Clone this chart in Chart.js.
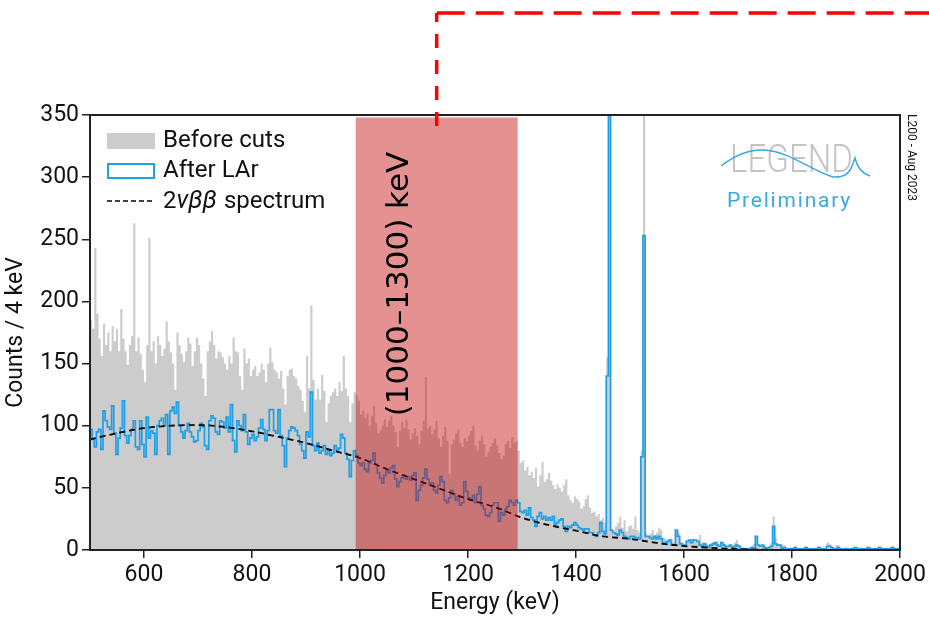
<!DOCTYPE html>
<html>
<head>
<meta charset="utf-8">
<script src="https://cdn.jsdelivr.net/npm/chart.js@4.4.0/dist/chart.umd.min.js"></script>
<style>
  html, body { margin: 0; padding: 0; background: #fff; }
  #wrap { width: 929px; height: 618px; }
</style>
</head>
<body>
<div id="wrap"><canvas id="chart" width="929" height="618"></canvas></div>
<script>
// Histogram binning (keV)
const BIN_START = 500;
const BIN_WIDTH = 4;

// Counts / 4 keV, 25 bins (100 keV) per row
const beforeCuts = [
  185,178,243,190,170,156,182,165,175,160,180,168,178,160,194,170,160,149,165,172,263,160,171,158,145,
  135,165,251,160,168,150,172,165,156,162,184,168,159,150,129,175,165,158,151,160,171,166,148,160,171,
  165,150,138,124,160,168,176,165,154,160,159,155,150,145,156,150,171,160,159,140,129,162,150,154,140,
  145,148,140,143,150,145,135,150,163,151,145,143,138,144,130,117,140,145,146,140,138,132,129,120,111,
  156,130,197,137,121,130,121,141,128,103,118,124,127,130,124,135,128,156,130,124,103,118,127,125,120,
  109,112,106,110,100,108,116,102,94,96,100,105,99,104,108,100,95,83,96,103,98,105,97,89,94,
  98,92,85,96,104,139,98,100,93,97,104,90,83,92,99,88,61,85,89,94,97,86,83,90,88,
  92,96,100,84,80,88,92,85,75,79,83,86,90,84,78,73,76,85,88,82,91,86,88,80,70,
  72,64,67,60,63,58,66,51,60,71,55,57,62,56,52,49,53,50,47,52,57,44,40,38,43,
  41,39,33,35,41,44,34,30,31,27,29,24,26,22,155,430,16,14,19,22,27,18,24,15,19,
  20,17,27,16,14,80,420,14,11,13,16,12,14,18,16,10,9,8,9,9,6,16,14,7,6,
  5,7,8,9,9,8,7,12,6,6,5,4,5,6,6,7,4,6,5,4,3,4,3,6,8,
  4,2,2,1,2,2,3,5,11,4,3,4,3,2,3,6,27,10,5,5,4,4,2,1,2,
  2,3,2,1,2,1,3,2,1,2,1,2,3,2,1,2,6,5,3,2,4,4,2,1,2,
  2,1,2,3,2,1,2,2,1,3,2,1,2,2,1,3,2,2,1,2,2,3,2,1,2
];

const afterLAr = [
  97,89,83,95,97,81,112,104,99,97,116,94,77,90,98,120,92,86,92,97,104,83,81,104,85,
  75,107,90,96,94,77,100,104,106,100,109,77,112,115,110,119,100,95,90,96,102,95,91,87,88,
  96,102,99,84,81,104,108,106,95,93,104,103,98,107,95,117,88,79,104,100,96,109,95,85,90,
  93,88,91,98,105,97,88,96,113,113,96,94,113,92,84,67,90,96,99,98,96,92,85,80,74,
  95,91,127,84,80,86,78,80,84,77,80,76,78,84,80,82,93,90,78,73,59,72,80,76,70,
  68,70,65,63,70,72,78,69,62,58,54,60,64,62,66,68,57,51,55,58,60,57,59,56,60,
  62,40,48,52,58,65,57,52,54,48,46,52,59,55,40,38,42,48,45,40,43,36,38,55,47,
  42,40,44,38,45,51,36,33,28,27,30,36,38,38,23,30,28,33,35,40,38,36,40,38,31,
  30,32,28,34,26,24,19,27,30,25,27,24,26,24,27,20,22,24,25,19,15,19,18,20,22,
  20,18,17,16,17,17,14,14,12,11,14,22,15,13,140,420,16,14,13,12,16,14,11,10,9,
  11,11,10,10,9,75,253,11,11,10,9,11,9,11,9,5,6,7,8,4,4,16,11,5,4,
  4,7,8,6,8,8,7,4,3,5,3,2,4,5,6,4,3,6,4,3,3,4,2,3,4,
  3,1,1,1,1,1,2,2,11,4,3,4,2,1,2,3,19,5,4,4,1,2,1,1,1,
  1,2,1,1,0,1,2,1,1,0,1,1,2,1,1,0,3,3,2,1,1,2,1,0,1,
  1,0,1,1,2,1,0,1,1,1,2,1,0,1,1,2,1,1,1,0,1,2,1,1,1
];

// 2vbb expectation
const spectrumEnergy = [500,550,600,650,700,750,800,850,900,950,1000,1050,1100,1150,1200,1250,1300,1350,1400,1450,1500,1550,1600,1650,1700,1750,1800];
const spectrumCounts = [89,94,98,100,100.5,99,95.5,91,86,80,74,65,57,49,41,34.5,26,20,15.5,11,9,5.7,3.2,1.8,0.8,0.3,0];

const xTicks = [600, 800, 1000, 1200, 1400, 1600, 1800, 2000];
const yTicks = [0, 50, 100, 150, 200, 250, 300, 350];

// shaded window and marker (keV)
const roiBand = [992, 1292];
const roiLabel = '(1000\u20131300) keV';
const markerEnergy = 1142;

const FONT = 'Roboto';
const GRAY = '#cccccc';
const BLUE = '#1f9fe6';

function toSteps(values) {
  const pts = values.map((v, i) => ({ x: BIN_START + i * BIN_WIDTH, y: v }));
  pts.push({ x: BIN_START + values.length * BIN_WIDTH, y: values[values.length - 1] });
  return pts;
}

// red band + label drawn over the histograms, then the box frame
const overlayPlugin = {
  id: 'overlay',
  afterDatasetsDraw(chart) {
    const { ctx, chartArea: a, scales: { x, y } } = chart;
    const x0 = x.getPixelForValue(roiBand[0]);
    const x1 = x.getPixelForValue(roiBand[1]);
    ctx.save();
    ctx.beginPath();
    ctx.rect(a.left, a.top, a.right - a.left, a.bottom - a.top);
    ctx.clip();
    ctx.fillStyle = 'rgba(200, 10, 10, 0.45)';
    const yTop = y.getPixelForValue(348);
    ctx.fillRect(x0, yTop, x1 - x0, a.bottom - yTop);

    ctx.translate(x0 + 44, 284);
    ctx.rotate(-Math.PI / 2);
    ctx.fillStyle = '#000';
    ctx.font = '31px "DejaVu Sans"';
    ctx.textAlign = 'center';
    ctx.textBaseline = 'middle';
    ctx.fillText(roiLabel, 0, 0);
    ctx.restore();

    ctx.save();
    ctx.strokeStyle = '#222';
    ctx.lineWidth = 2;
    ctx.strokeRect(a.left, a.top, a.right - a.left, a.bottom - a.top);
    ctx.restore();
  },
  afterDraw(chart) {
    const { ctx, chartArea: a, scales: { x } } = chart;

    // red dashed marker going up and out to the right
    const mx = x.getPixelForValue(markerEnergy);
    ctx.save();
    ctx.strokeStyle = '#ff0000';
    ctx.lineWidth = 3.5;
    ctx.setLineDash([14, 12]);
    ctx.beginPath();
    ctx.moveTo(mx, 126);
    ctx.lineTo(mx, 13);
    ctx.stroke();
    ctx.setLineDash([28, 11]);
    ctx.beginPath();
    ctx.moveTo(mx, 13);
    ctx.lineTo(chart.width, 13);
    ctx.stroke();
    ctx.restore();

    // legend
    const lx = a.left + 17;
    ctx.save();
    ctx.fillStyle = GRAY;
    ctx.fillRect(lx, 133, 48, 16);
    ctx.strokeStyle = BLUE;
    ctx.lineWidth = 2;
    ctx.strokeRect(lx + 1, 164, 46, 14);
    ctx.strokeStyle = '#000';
    ctx.lineWidth = 1.4;
    ctx.setLineDash([5, 3]);
    ctx.beginPath();
    ctx.moveTo(lx, 201);
    ctx.lineTo(lx + 48, 201);
    ctx.stroke();
    ctx.setLineDash([]);

    ctx.fillStyle = '#111';
    ctx.textBaseline = 'middle';
    ctx.font = '24px ' + FONT;
    const tx = lx + 56;
    ctx.fillText('Before cuts', tx, 141);
    ctx.fillText('After LAr', tx, 171);
    ctx.fillText('2', tx, 202);
    let cx = tx + ctx.measureText('2').width;
    ctx.font = 'italic 25px ' + FONT;
    ctx.fillText('\u03bd\u03b2\u03b2', cx, 202);
    cx += ctx.measureText('\u03bd\u03b2\u03b2').width + 1;
    ctx.font = '24px ' + FONT;
    ctx.fillText(' spectrum', cx, 202);
    ctx.restore();

    // LEGEND logo
    ctx.save();
    ctx.font = '300 38px ' + FONT;
    ctx.fillStyle = '#c4c4c4';
    ctx.textBaseline = 'alphabetic';
    const lw = ctx.measureText('LEGEND').width;
    ctx.translate(730, 172);
    ctx.scale(123 / lw, 1);
    ctx.fillText('LEGEND', 0, 0);
    ctx.restore();

    ctx.save();
    ctx.strokeStyle = '#3aa8e0';
    ctx.lineWidth = 1.5;
    ctx.beginPath();
    ctx.moveTo(721, 166);
    ctx.bezierCurveTo(735, 155, 750, 149, 765, 150);
    ctx.bezierCurveTo(790, 152, 810, 170, 833, 177);
    ctx.quadraticCurveTo(848, 178, 852, 166);
    ctx.lineTo(855, 158);
    ctx.quadraticCurveTo(858, 172, 870, 176);
    ctx.stroke();

    ctx.fillStyle = '#39a9e1';
    ctx.font = '21px ' + FONT;
    ctx.letterSpacing = '1.8px';
    ctx.textBaseline = 'alphabetic';
    ctx.fillText('Preliminary', 727, 207);
    ctx.restore();

    // side stamp
    ctx.save();
    ctx.translate(911, 114);
    ctx.rotate(Math.PI / 2);
    ctx.fillStyle = '#111';
    ctx.font = '12px ' + FONT;
    ctx.textBaseline = 'middle';
    ctx.fillText('L200 - Aug 2023', 0, 0);
    ctx.restore();
  }
};

const axisGrid = { display: true, drawOnChartArea: false, drawTicks: true, tickLength: 8, color: '#222', lineWidth: 1.5 };
const tickFont = { family: FONT, size: 23 };
const titleFont = { family: FONT, size: 23 };

new Chart(document.getElementById('chart'), {
  type: 'line',
  data: {
    datasets: [{
      label: '2\u03bd\u03b2\u03b2 spectrum',
      data: spectrumEnergy.map((e, i) => ({ x: e, y: spectrumCounts[i] })),
      borderColor: '#000',
      borderWidth: 1.8,
      borderDash: [6, 4],
      cubicInterpolationMode: 'monotone',
      pointRadius: 0,
      fill: false,
      order: 1
    }, {
      label: 'After LAr',
      data: toSteps(afterLAr),
      stepped: 'before',
      borderColor: BLUE,
      borderWidth: 1.7,
      pointRadius: 0,
      fill: false,
      order: 2
    }, {
      label: 'Before cuts',
      data: toSteps(beforeCuts),
      stepped: 'before',
      borderColor: GRAY,
      borderWidth: 0,
      backgroundColor: GRAY,
      pointRadius: 0,
      fill: 'origin',
      order: 3
    }]
  },
  options: {
    responsive: false,
    animation: false,
    layout: { padding: { top: 115, right: 29, left: 0, bottom: 0 } },
    plugins: { legend: { display: false }, tooltip: { enabled: false } },
    scales: {
      x: {
        type: 'linear',
        min: 500,
        max: 2000,
        afterBuildTicks: s => { s.ticks = xTicks.map(v => ({ value: v })); },
        afterFit: s => { s.height = 68; },
        grid: axisGrid,
        border: { display: true, color: '#222', width: 2 },
        ticks: { font: tickFont, color: '#111', padding: 3, maxRotation: 0, autoSkip: false, callback: v => String(v) },
        title: { display: true, text: 'Energy (keV)', font: titleFont, color: '#111', padding: { top: 0, bottom: 1 } }
      },
      y: {
        min: 0,
        max: 350,
        afterBuildTicks: s => { s.ticks = yTicks.map(v => ({ value: v })); },
        afterFit: s => { s.width = 90; },
        grid: axisGrid,
        border: { display: true, color: '#222', width: 2 },
        ticks: { font: tickFont, color: '#111', padding: 3, callback: v => String(v) },
        title: { display: true, text: 'Counts / 4 keV', font: titleFont, color: '#111', padding: { top: 2, bottom: 0 } }
      }
    }
  },
  plugins: [overlayPlugin]
});
</script>
</body>
</html>
